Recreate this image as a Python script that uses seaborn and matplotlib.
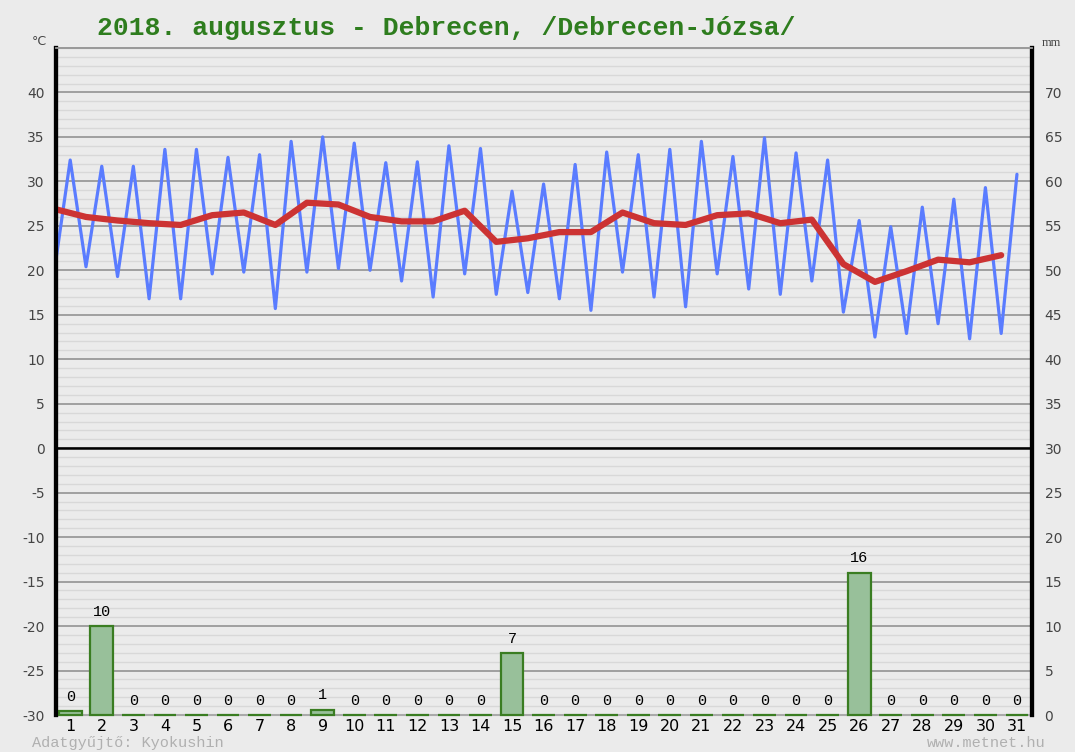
import numpy as np
import pandas as pd
import matplotlib
matplotlib.use("Agg")
import matplotlib.pyplot as plt
import seaborn as sns

# --- data ---
days = list(range(1, 32))
# daily maximum (plotted at the day itself)
t_max = [32.4, 31.7, 31.7, 33.6, 33.6, 32.7, 33.0, 34.5, 35.0, 34.3,
         32.1, 32.2, 34.0, 33.7, 28.9, 29.7, 31.9, 33.3, 33.0, 33.6,
         34.5, 32.8, 34.9, 33.2, 32.4, 25.6, 24.9, 27.1, 28.0, 29.3, 30.8]
# daily minimum (plotted half a day before)
t_min = [20.0, 20.4, 19.3, 16.8, 16.8, 19.6, 19.8, 15.7, 19.8, 20.2,
         20.0, 18.8, 17.0, 19.6, 17.3, 17.5, 16.8, 15.5, 19.8, 17.0,
         15.9, 19.6, 17.9, 17.3, 18.8, 15.3, 12.5, 12.9, 14.0, 12.3, 12.9]
# daily mean
t_mean = [26.9, 26.0, 25.6, 25.3, 25.1, 26.2, 26.5, 25.1, 27.6, 27.4,
          26.0, 25.5, 25.5, 26.7, 23.2, 23.6, 24.3, 24.3, 26.5, 25.3,
          25.1, 26.2, 26.4, 25.3, 25.7, 20.7, 18.7, 19.9, 21.2, 20.9, 21.7]
# precipitation, mm
precip = [0.4, 10, 0, 0, 0, 0, 0, 0, 0.6, 0,
          0, 0, 0, 0, 7, 0, 0, 0, 0, 0,
          0, 0, 0, 0, 0, 16, 0, 0, 0, 0, 0]

title = "2018. augusztus - Debrecen, /Debrecen-Józsa/"

# --- tables for seaborn ---
zig_rows = []
for d, lo, hi in zip(days, t_min, t_max):
    zig_rows.append({"x": d - 0.5, "t": lo})
    zig_rows.append({"x": d, "t": hi})
df_zig = pd.DataFrame(zig_rows)
df_mean = pd.DataFrame({"x": [d - 0.5 for d in days], "t": t_mean})
df_rain = pd.DataFrame({"day": days, "mm": precip})

bg = "#ebebeb"
sns.set_style("white")
plt.rcParams["font.family"] = ["DejaVu Sans"]
plt.rcParams["axes.unicode_minus"] = False

fig = plt.figure(figsize=(10.75, 7.52), dpi=100, facecolor=bg)
ax = fig.add_axes([0.0521, 0.0492, 0.908, 0.887])
ax.set_facecolor(bg)

# grid
ax.set_ylim(-30, 45)
ax.set_yticks(range(-30, 45, 5))
ax.set_yticks(range(-30, 46, 1), minor=True)
ax.grid(which="minor", axis="y", color="#d8d8d8", lw=1.0)
ax.grid(which="major", axis="y", color="#9a9a9a", lw=1.3)
ax.set_axisbelow(True)
ax.axhline(0, color="black", lw=1.8, zorder=1)

sns.lineplot(data=df_zig, x="x", y="t", ax=ax, color="#5a7cff", lw=2.3,
             estimator=None, sort=False, zorder=3)
sns.lineplot(data=df_mean, x="x", y="t", ax=ax, color="#cc3333", lw=4.5,
             estimator=None, sort=False, zorder=4)

ax2 = ax.twinx()
ax2.set_ylim(0, 75)
sns.barplot(data=df_rain, x="day", y="mm", ax=ax2, native_scale=True,
            width=0.72, color="#98c09a", edgecolor="#3a7d22", linewidth=1.6,
            saturation=1, errorbar=None)
for p in ax2.patches:
    p.set_clip_on(False)
for d, v in zip(days, precip):
    ax2.text(d, v + 1.6, f"{v:.0f}", ha="center", va="center",
             fontsize=11, family="Liberation Mono", color="black")
ax2.set_yticks(range(0, 75, 5))

ax.set_xlim(0.55, 31.48)
ax2.set_xlim(0.55, 31.48)
ax.set_xticks(days)
ax.set_xticklabels([str(d) for d in days])
ax.set_xlabel("")
ax.set_ylabel("")
ax2.set_xlabel("")
ax2.set_ylabel("")

ax.tick_params(axis="y", which="both", length=0, pad=8, labelsize=10,
               labelcolor="#444444")
ax.tick_params(axis="x", length=0, pad=3, labelsize=11.5, labelcolor="black")
ax2.tick_params(axis="y", length=0, pad=9, labelsize=10, labelcolor="#444444")

for a in (ax, ax2):
    a.spines["left"].set_color("black")
    a.spines["left"].set_linewidth(3)
    a.spines["right"].set_color("black")
    a.spines["right"].set_linewidth(3)
    a.spines["top"].set_color("#9a9a9a")
    a.spines["top"].set_linewidth(1.3)
ax.spines["bottom"].set_color("#aaaaaa")
ax.spines["bottom"].set_linewidth(1.5)
ax2.spines["bottom"].set_visible(False)

fig.text(0.0902, 0.963, title, ha="left", va="center", fontsize=19,
         family="Liberation Mono", fontweight="bold", color="#2e7d1e")
fig.text(0.037, 0.945, "°C", ha="center", va="center", fontsize=9,
         color="#444444")
fig.text(0.978, 0.943, "mm", ha="center", va="center", fontsize=9,
         family="Liberation Serif", color="#444444")
fig.text(0.030, 0.012, "Adatgyűjtő: Kyokushin", ha="left", va="center",
         fontsize=11, family="Liberation Mono", color="#b0b0b0")
fig.text(0.973, 0.012, "www.metnet.hu", ha="right", va="center",
         fontsize=11, family="Liberation Mono", color="#b0b0b0")

fig.savefig("out.png", dpi=100, facecolor=bg)
